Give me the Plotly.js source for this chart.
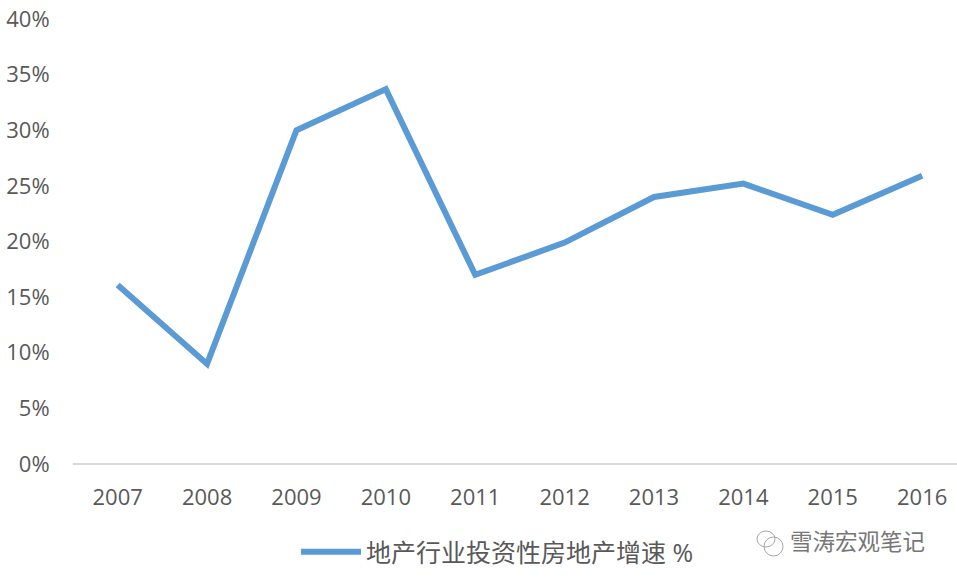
<!DOCTYPE html>
<html><head><meta charset="utf-8">
<script src="https://cdn.plot.ly/plotly-3.0.1.min.js"></script>
<style>html,body{margin:0;padding:0;background:#fff}</style></head>
<body><div id="c" style="width:957px;height:583px"></div>
<script>
const years=['2007','2008','2009','2010','2011','2012','2013','2014','2015','2016'];
const growth=[16.1,9.0,30.0,33.7,17.0,19.9,24.0,25.2,22.4,25.9];
const seriesName='地产行业投资性房地产增速 %';
const watermark='雪涛宏观笔记';
const F='"Open Sans","Noto Sans CJK SC",sans-serif';
const W=957,H=583;
const px=v=>(v-73)/884, py=v=>(464-v)/445;
const bubble=(x0,y0,x1,y1)=>({type:'circle',xref:'paper',yref:'paper',x0:px(x0),x1:px(x1),y0:py(y0),y1:py(y1),line:{color:'#A6A6A6',width:1}});
Plotly.newPlot('c',[{type:'scatter',mode:'lines',x:years,y:growth,name:seriesName,
 line:{color:'#5B9BD5',width:6,shape:'linear'}}],{
 width:W,height:H,margin:{l:73,r:0,t:19,b:119,pad:0},
 paper_bgcolor:'#fff',plot_bgcolor:'#fff',
 font:{family:F,color:'#595959',size:22},
 xaxis:{type:'category',range:[-0.5,9.39],showgrid:false,zeroline:false,showline:false,ticks:'outside',ticklen:14,tickcolor:'rgba(0,0,0,0)',tickfont:{size:22,color:'#595959'},automargin:false},
 yaxis:{range:[0,40],dtick:5,ticksuffix:'%',showgrid:false,zeroline:true,zerolinecolor:'#D9D9D9',zerolinewidth:2,showline:false,ticks:'outside',ticklen:18,tickcolor:'rgba(0,0,0,0)',tickfont:{size:22,color:'#595959'},automargin:false},
 showlegend:true,
 legend:{orientation:'h',x:px(296),xanchor:'left',y:py(552),yanchor:'middle',font:{size:25,color:'#595959'},itemwidth:60},
 annotations:[{text:watermark,xref:'paper',yref:'paper',x:px(927),xanchor:'right',y:py(541),yanchor:'middle',showarrow:false,font:{size:22.5,color:'#777'}}],
 shapes:[bubble(757,531,775,547),bubble(764,537,783,556)]
},{displayModeBar:false});
</script></body></html>
